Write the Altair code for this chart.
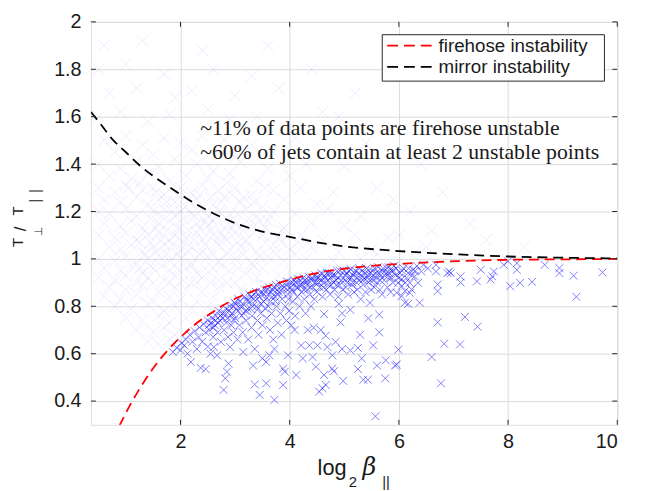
import altair as alt
import pandas as pd

# ---------------- data ----------------
x_ticks = [2, 4, 6, 8, 10]
y_ticks = [0.4, 0.6, 0.8, 1.0, 1.2, 1.4, 1.6, 1.8, 2.0]

firehose_x = [0.88, 1.0, 1.1, 1.22, 1.35, 1.52, 1.7, 1.89, 2.05, 2.22, 2.52, 2.79,
              3.06, 3.39, 3.76, 3.97, 4.45, 5.05, 5.66, 6.11, 7.13, 7.97, 9.0, 10.0]
firehose_y = [0.295, 0.35, 0.393, 0.44, 0.488, 0.545, 0.597, 0.645, 0.68, 0.715, 0.765, 0.805,
              0.838, 0.869, 0.896, 0.91, 0.938, 0.96, 0.974, 0.98, 0.991, 0.996, 0.998, 1.0]

mirror_x = [0.36, 0.5, 0.75, 1.0, 1.25, 1.5, 1.75, 2.0, 2.18, 2.5, 3.0, 3.5, 4.0,
            4.5, 5.0, 6.0, 7.0, 8.0, 9.0, 10.0]
mirror_y = [1.62, 1.58, 1.505, 1.45, 1.395, 1.35, 1.31, 1.272, 1.245, 1.204, 1.151,
            1.115, 1.093, 1.07, 1.053, 1.033, 1.02, 1.01, 1.005, 1.002]

unstable_pts = [
    (1.86, 0.607), (1.93, 0.625), (2.0, 0.615), (2.02, 0.645), (2.07, 0.635), (2.1, 0.66),
    (2.13, 0.6), (2.19, 0.565), (2.17, 0.68), (2.22, 0.65), (2.26, 0.695), (2.3, 0.62),
    (2.33, 0.67), (2.35, 0.71), (2.37, 0.54), (2.4, 0.65), (2.42, 0.725), (2.46, 0.535),
    (2.46, 0.69), (2.5, 0.63), (2.5, 0.74), (2.53, 0.7), (2.55, 0.6),
    (2.58, 0.75), (2.6, 0.67), (2.61, 0.628), (2.63, 0.72), (2.65, 0.76), (2.67, 0.593),
    (2.68, 0.69), (2.7, 0.78), (2.72, 0.74), (2.74, 0.65), (2.77, 0.77), (2.79, 0.447),
    (2.8, 0.7), (2.82, 0.496), (2.83, 0.79), (2.85, 0.524), (2.86, 0.75), (2.87, 0.67),
    (2.88, 0.558), (2.9, 0.8), (2.91, 0.628), (2.93, 0.72), (2.95, 0.77), (2.97, 0.69),
    (2.99, 0.815), (3.0, 0.75),
    (3.02, 0.79), (3.04, 0.66), (3.06, 0.83), (3.08, 0.72), (3.1, 0.8), (3.12, 0.76),
    (3.14, 0.69), (3.15, 0.607), (3.17, 0.84), (3.19, 0.78), (3.2, 0.74), (3.22, 0.82),
    (3.24, 0.66), (3.26, 0.85), (3.28, 0.79), (3.3, 0.71), (3.31, 0.76), (3.33, 0.55),
    (3.34, 0.83), (3.36, 0.47), (3.36, 0.62), (3.38, 0.86), (3.39, 0.8), (3.41, 0.74),
    (3.43, 0.68), (3.45, 0.426), (3.45, 0.84), (3.47, 0.77), (3.49, 0.86), (3.5, 0.72),
    (3.5, 0.58),
    (3.52, 0.82), (3.54, 0.87), (3.55, 0.79), (3.57, 0.565), (3.57, 0.475), (3.58, 0.75),
    (3.6, 0.85), (3.62, 0.88), (3.63, 0.593), (3.64, 0.7), (3.65, 0.82), (3.67, 0.77),
    (3.69, 0.87), (3.7, 0.66), (3.72, 0.405), (3.72, 0.62), (3.73, 0.84), (3.75, 0.89),
    (3.76, 0.8), (3.78, 0.73), (3.8, 0.86), (3.82, 0.895), (3.83, 0.77), (3.85, 0.68),
    (3.86, 0.83), (3.88, 0.537), (3.88, 0.468), (3.9, 0.88), (3.91, 0.524), (3.92, 0.8),
    (3.94, 0.74), (3.95, 0.905), (3.97, 0.593), (3.97, 0.85), (3.99, 0.78),
    (4.01, 0.9), (4.03, 0.72), (4.04, 0.87), (4.06, 0.82), (4.08, 0.91), (4.09, 0.70),
    (4.1, 0.76), (4.12, 0.51), (4.12, 0.88), (4.14, 0.84), (4.16, 0.915), (4.18, 0.8),
    (4.2, 0.89), (4.21, 0.635), (4.22, 0.86), (4.24, 0.58), (4.25, 0.92), (4.27, 0.83),
    (4.29, 0.77), (4.3, 0.9), (4.32, 0.87), (4.33, 0.70), (4.35, 0.925), (4.36, 0.635),
    (4.37, 0.85), (4.39, 0.8), (4.4, 0.91), (4.42, 0.586), (4.43, 0.88), (4.44, 0.71),
    (4.45, 0.83), (4.47, 0.93), (4.48, 0.545), (4.49, 0.9), (4.5, 0.86),
    (4.51, 0.635), (4.52, 0.92), (4.54, 0.44), (4.55, 0.88), (4.57, 0.70), (4.58, 0.94),
    (4.6, 0.454), (4.6, 0.84), (4.61, 0.9), (4.63, 0.51), (4.63, 0.767), (4.64, 0.93),
    (4.66, 0.468), (4.66, 0.676), (4.67, 0.87), (4.69, 0.628), (4.7, 0.91), (4.72, 0.94),
    (4.74, 0.85), (4.76, 0.89), (4.78, 0.593), (4.78, 0.537), (4.79, 0.93), (4.81, 0.526),
    (4.82, 0.87), (4.84, 0.65), (4.85, 0.91), (4.87, 0.95), (4.89, 0.84), (4.9, 0.81),
    (4.91, 0.89), (4.93, 0.732), (4.94, 0.93), (4.96, 0.62), (4.96, 0.77), (4.97, 0.87),
    (4.98, 0.485), (4.99, 0.95),
    (5.01, 0.91), (5.03, 0.88), (5.05, 0.94), (5.07, 0.85), (5.09, 0.92), (5.11, 0.785),
    (5.11, 0.614), (5.12, 0.955), (5.14, 0.89), (5.16, 0.93), (5.18, 0.86), (5.2, 0.95),
    (5.22, 0.9), (5.24, 0.87), (5.25, 0.624), (5.25, 0.535), (5.26, 0.94), (5.28, 0.91),
    (5.29, 0.68), (5.3, 0.83), (5.32, 0.58), (5.33, 0.95), (5.35, 0.49), (5.35, 0.89),
    (5.37, 0.92), (5.39, 0.86), (5.41, 0.96), (5.43, 0.49), (5.44, 0.749), (5.44, 0.9),
    (5.46, 0.935), (5.47, 0.815), (5.49, 0.87),
    (5.51, 0.95), (5.53, 0.635), (5.53, 0.91), (5.55, 0.88), (5.57, 0.336), (5.58, 0.94),
    (5.6, 0.55), (5.6, 0.9), (5.62, 0.965), (5.64, 0.765), (5.64, 0.69), (5.65, 0.87),
    (5.67, 0.93), (5.69, 0.85), (5.71, 0.96), (5.73, 0.91), (5.75, 0.496), (5.76, 0.572),
    (5.77, 0.94), (5.79, 0.88), (5.81, 0.965), (5.83, 0.92), (5.85, 0.86), (5.87, 0.95),
    (5.89, 0.9), (5.91, 0.97), (5.93, 0.55), (5.94, 0.93), (5.96, 0.554), (5.96, 0.857),
    (5.99, 0.617), (5.99, 0.899),
    (6.02, 0.94), (6.05, 0.885), (6.05, 0.913), (6.05, 0.843), (6.08, 0.96), (6.11, 0.864),
    (6.11, 0.815), (6.14, 0.92), (6.17, 0.94), (6.17, 0.81), (6.2, 0.899), (6.2, 0.857),
    (6.23, 0.871), (6.26, 0.954), (6.29, 0.926), (6.33, 0.97), (6.35, 0.899), (6.38, 0.815),
    (6.41, 0.947), (6.45, 0.975), (6.53, 0.96), (6.6, 0.586), (6.68, 0.975), (6.68, 0.947),
    (6.71, 0.892), (6.71, 0.864), (6.71, 0.732), (6.77, 0.475), (6.83, 0.642), (6.89, 0.94),
    (6.92, 0.947), (6.95, 0.94),
    (7.12, 0.639), (7.13, 0.926), (7.13, 0.90), (7.21, 0.755), (7.43, 0.905), (7.44, 0.714),
    (7.5, 0.954), (7.68, 0.913), (7.71, 0.926), (7.74, 0.947), (7.92, 0.975), (8.04, 0.885),
    (8.0, 0.99), (8.16, 0.982), (8.16, 0.954), (8.22, 0.899), (8.44, 0.903), (8.67, 0.975),
    (8.94, 0.961), (8.94, 0.94), (9.2, 0.929), (9.25, 0.84), (9.73, 0.943),
    # dense band just under the firehose threshold
    (2.52, 0.72), (2.56, 0.73), (2.6, 0.71), (2.64, 0.74), (2.69, 0.73), (2.73, 0.76),
    (2.78, 0.75), (2.81, 0.77), (2.84, 0.73), (2.89, 0.78), (2.92, 0.76), (2.96, 0.8),
    (2.98, 0.74),
    (3.01, 0.81), (3.05, 0.78), (3.09, 0.82), (3.13, 0.8), (3.16, 0.77), (3.21, 0.83),
    (3.23, 0.79), (3.27, 0.82), (3.29, 0.84), (3.32, 0.8), (3.35, 0.85), (3.4, 0.83),
    (3.42, 0.79), (3.46, 0.86), (3.48, 0.81),
    (3.53, 0.85), (3.56, 0.83), (3.59, 0.87), (3.61, 0.8), (3.66, 0.86), (3.68, 0.84),
    (3.71, 0.88), (3.74, 0.82), (3.77, 0.87), (3.79, 0.85), (3.84, 0.88), (3.87, 0.86),
    (3.93, 0.89), (3.96, 0.87), (3.98, 0.83),
    (4.02, 0.88), (4.05, 0.9), (4.07, 0.86), (4.11, 0.9), (4.15, 0.88), (4.19, 0.91),
    (4.23, 0.89), (4.26, 0.87), (4.28, 0.91), (4.31, 0.89), (4.34, 0.91), (4.38, 0.88),
    (4.41, 0.92), (4.46, 0.9), (4.48, 0.92),
    (4.53, 0.9), (4.56, 0.93), (4.59, 0.91), (4.62, 0.88), (4.65, 0.92), (4.68, 0.94),
    (4.71, 0.89), (4.75, 0.92), (4.77, 0.94), (4.8, 0.9), (4.83, 0.93), (4.86, 0.89),
    (4.88, 0.92), (4.92, 0.95), (4.95, 0.91),
    (5.02, 0.93), (5.06, 0.9), (5.08, 0.95), (5.13, 0.92), (5.15, 0.9), (5.19, 0.94),
    (5.23, 0.92), (5.27, 0.96), (5.31, 0.93), (5.34, 0.91), (5.38, 0.94), (5.42, 0.92),
    (5.45, 0.95), (5.48, 0.91),
    (5.52, 0.93), (5.56, 0.96), (5.59, 0.92), (5.63, 0.94), (5.66, 0.91), (5.7, 0.95),
    (5.74, 0.93), (5.78, 0.96), (5.82, 0.94), (5.86, 0.92), (5.9, 0.95), (5.95, 0.96),
    (6.0, 0.92), (6.06, 0.95), (6.12, 0.9), (6.18, 0.96), (6.24, 0.93), (6.3, 0.95),
]

stable_pts = [
    (0.6, 1.9), (1.3, 1.92), (2.4, 1.88), (3.6, 1.9),
    (0.5, 1.8), (1.0, 1.82), (1.7, 1.78), (2.6, 1.8), (3.3, 1.77), (4.4, 1.8),
    (0.7, 1.7), (1.2, 1.72), (1.9, 1.68), (2.2, 1.71), (3.0, 1.69), (3.8, 1.72), (5.2, 1.7),
    (0.5, 1.6), (0.9, 1.62), (1.4, 1.58), (1.8, 1.61), (2.5, 1.63), (2.9, 1.59), (3.4, 1.6), (4.6, 1.62),
    (0.6, 1.5), (1.0, 1.52), (1.3, 1.48), (1.7, 1.51), (2.0, 1.49), (2.4, 1.52), (2.8, 1.5),
    (3.3, 1.48), (4.1, 1.51), (5.4, 1.49),
    (0.8, 1.45), (1.5, 1.44), (2.2, 1.46), (3.0, 1.43), (3.7, 1.45),
    (0.5, 1.4), (0.9, 1.38), (1.2, 1.41), (1.6, 1.39), (1.9, 1.42), (2.3, 1.4), (2.6, 1.37),
    (3.1, 1.41), (3.6, 1.38), (4.3, 1.4), (5.0, 1.39),
    (0.7, 1.35), (1.1, 1.34), (1.4, 1.36), (1.8, 1.33), (2.1, 1.35), (2.5, 1.34), (2.9, 1.36),
    (3.4, 1.33), (4.0, 1.35),
    (0.5, 1.3), (0.8, 1.28), (1.0, 1.31), (1.3, 1.29), (1.5, 1.3), (1.7, 1.27), (2.0, 1.3),
    (2.2, 1.28), (2.4, 1.31), (2.7, 1.29), (3.0, 1.3), (3.3, 1.27), (3.7, 1.29), (4.2, 1.3),
    (4.8, 1.28), (5.6, 1.3),
    (0.6, 1.25), (0.9, 1.24), (1.2, 1.26), (1.4, 1.23), (1.6, 1.25), (1.9, 1.24), (2.1, 1.22),
    (2.3, 1.25), (2.6, 1.23), (2.8, 1.26), (3.1, 1.24), (3.5, 1.22), (3.9, 1.25), (4.5, 1.23),
    (0.5, 1.2), (0.7, 1.19), (1.0, 1.21), (1.2, 1.18), (1.5, 1.2), (1.7, 1.21), (1.9, 1.18),
    (2.0, 1.2), (2.2, 1.19), (2.4, 1.21), (2.5, 1.18), (2.7, 1.2), (2.9, 1.19), (3.2, 1.21),
    (3.4, 1.18), (3.7, 1.2), (4.1, 1.19), (4.7, 1.21), (5.3, 1.18), (6.2, 1.2),
    (0.6, 1.15), (0.9, 1.14), (1.1, 1.16), (1.3, 1.13), (1.6, 1.15), (1.8, 1.16), (2.0, 1.13),
    (2.3, 1.15), (2.5, 1.14), (2.6, 1.16), (2.8, 1.13), (3.0, 1.15), (3.3, 1.14), (3.6, 1.16),
    (3.9, 1.13), (4.4, 1.15), (5.0, 1.14),
    (0.5, 1.1), (0.8, 1.09), (1.0, 1.11), (1.2, 1.08), (1.4, 1.1), (1.6, 1.11), (1.8, 1.08),
    (1.9, 1.1), (2.1, 1.09), (2.3, 1.11), (2.4, 1.08), (2.6, 1.1), (2.8, 1.09), (3.0, 1.11),
    (3.2, 1.08), (3.5, 1.1), (3.8, 1.09), (4.2, 1.1), (4.6, 1.08), (5.2, 1.1), (5.8, 1.09),
    (0.7, 1.05), (0.9, 1.04), (1.1, 1.06), (1.3, 1.03), (1.5, 1.05), (1.7, 1.06), (2.0, 1.04),
    (2.2, 1.05), (2.4, 1.03), (2.7, 1.06), (2.9, 1.04), (3.1, 1.05), (3.4, 1.03), (3.7, 1.06),
    (4.0, 1.04), (4.4, 1.05), (4.9, 1.03), (5.5, 1.04), (6.5, 1.05),
    (0.5, 1.0), (0.8, 0.99), (1.0, 1.01), (1.2, 0.98), (1.4, 1.0), (1.6, 1.01), (1.8, 0.99),
    (2.0, 1.0), (2.2, 0.98), (2.5, 1.01), (2.7, 0.99), (3.0, 1.0), (3.3, 0.98), (3.6, 1.01),
    (3.9, 0.99), (4.3, 1.0), (4.8, 0.99), (5.3, 1.0), (6.0, 0.99), (7.0, 1.0),
    (0.6, 0.96), (0.9, 0.95), (1.1, 0.97), (1.3, 0.94), (1.5, 0.96), (1.8, 0.95), (2.1, 0.96),
    (2.3, 0.94), (2.6, 0.96), (2.9, 0.95), (3.2, 0.94), (3.5, 0.96), (4.0, 0.95), (4.6, 0.96),
    (5.1, 0.97),
    (0.5, 0.92), (0.8, 0.91), (1.0, 0.93), (1.2, 0.9), (1.4, 0.92), (1.7, 0.91), (1.9, 0.93),
    (2.2, 0.9), (2.4, 0.92), (2.7, 0.91), (3.0, 0.9), (3.4, 0.92), (3.8, 0.93),
    (0.7, 0.88), (1.0, 0.87), (1.3, 0.89), (1.6, 0.86), (1.9, 0.88), (2.1, 0.87), (2.4, 0.86),
    (2.7, 0.88), (3.1, 0.87),
    (0.6, 0.84), (0.9, 0.83), (1.2, 0.85), (1.5, 0.82), (1.8, 0.84), (2.0, 0.83), (2.3, 0.82),
    (2.6, 0.84),
    (0.8, 0.8), (1.1, 0.79), (1.4, 0.81), (1.7, 0.78), (1.9, 0.8), (2.2, 0.79), (2.5, 0.8),
    (1.0, 0.75), (1.3, 0.74), (1.6, 0.76), (1.8, 0.73), (2.1, 0.75),
    (1.2, 0.7), (1.5, 0.69), (1.7, 0.71), (1.9, 0.68),
    (1.4, 0.65), (1.6, 0.64), (1.8, 0.66),
    (6.8, 1.28), (7.3, 1.15), (6.0, 1.1), (6.6, 1.12), (5.9, 1.25), (4.9, 1.6), (6.4, 1.4),
    (8.3, 1.05), (7.6, 1.08), (5.6, 1.02), (6.3, 1.03),
    (1.55, 1.28), (1.75, 1.24), (1.95, 1.27), (2.15, 1.25), (2.35, 1.27), (2.55, 1.26),
    (2.75, 1.24), (2.95, 1.27), (3.15, 1.26), (3.35, 1.24),
    (1.45, 1.17), (1.65, 1.18), (1.85, 1.2), (2.05, 1.17), (2.25, 1.18), (2.45, 1.16),
    (2.65, 1.18), (2.85, 1.17), (3.05, 1.19), (3.25, 1.17), (3.45, 1.16), (3.65, 1.18),
    (1.35, 1.12), (1.55, 1.13), (1.75, 1.12), (1.95, 1.13), (2.15, 1.12), (2.35, 1.13),
    (2.55, 1.12), (2.75, 1.11), (2.95, 1.13), (3.15, 1.12), (3.35, 1.11), (3.55, 1.13), (3.85, 1.12),
    (1.25, 1.07), (1.45, 1.07), (1.65, 1.08), (1.85, 1.06), (2.05, 1.07), (2.25, 1.08),
    (2.45, 1.06), (2.65, 1.07), (2.85, 1.08), (3.05, 1.07), (3.25, 1.06), (3.55, 1.07),
    (3.85, 1.07), (4.15, 1.07),
    (1.35, 1.02), (1.55, 1.03), (1.75, 1.02), (1.95, 1.02), (2.15, 1.03), (2.35, 1.02),
    (2.6, 1.02), (2.85, 1.02), (3.15, 1.02), (3.45, 1.01), (3.75, 1.02), (4.1, 1.02),
    (1.25, 0.96), (1.45, 0.97), (1.65, 0.97), (1.95, 0.96), (2.2, 0.97), (2.45, 0.96),
    (2.75, 0.97), (3.05, 0.96), (3.35, 0.97),
    (1.5, 0.9), (1.8, 0.9), (2.05, 0.91), (2.3, 0.9), (2.55, 0.9), (2.85, 0.9),
    (1.05, 1.3), (1.25, 1.32), (2.85, 1.32), (3.55, 1.3),
]

legend_labels = ["firehose instability", "mirror instability"]
legend_colors = ["#ff0000", "#000000"]
annotation_lines = ["~11% of data points are firehose unstable",
                    "~60% of jets contain at least 2 unstable points"]
annotation_x = [2.36, 2.36]
annotation_y = [1.551, 1.449]

# ---------------- frames ----------------
W, H = 533, 408
unstable_df = pd.DataFrame(unstable_pts, columns=["x", "y"])
stable_df = pd.DataFrame(stable_pts, columns=["x", "y"])
fire_df = pd.DataFrame({"x": firehose_x, "y": firehose_y})
mirror_df = pd.DataFrame({"x": mirror_x, "y": mirror_y})
xt_df = pd.DataFrame({"x": x_ticks})
yt_df = pd.DataFrame({"y": y_ticks})
ann_df = pd.DataFrame({"x": annotation_x, "y": annotation_y, "t": annotation_lines})
one = pd.DataFrame({"k": [0]})

SANS = "Liberation Sans"
INK = "#1a1a1a"
xs = alt.Scale(domain=[0.36, 10], nice=False, zero=False)
ys = alt.Scale(domain=[0.3, 2], nice=False, zero=False)
X_AX = alt.Axis(values=x_ticks, title=None, grid=True, gridColor="#dadada", ticks=False,
                domain=False, labelFontSize=20, labelFont=SANS, labelColor=INK, labelPadding=7)
Y_AX = alt.Axis(values=y_ticks, format="~g", title=None, grid=True, gridColor="#dadada",
                ticks=False, domain=False, labelFontSize=20, labelFont=SANS, labelColor=INK,
                labelPadding=10)
XE = alt.X("x:Q", scale=xs, axis=X_AX)
YE = alt.Y("y:Q", scale=ys, axis=Y_AX)
XSHAPE = "M-1,-1L1,1M-1,1L1,-1"

stable = alt.Chart(stable_df).mark_point(
    shape=XSHAPE, size=150, strokeWidth=1, color="#0000ff", opacity=0.065, filled=False
).encode(x=XE, y=YE)

unstable = alt.Chart(unstable_df).mark_point(
    shape=XSHAPE, size=64, strokeWidth=1, color="#0000ff", opacity=0.5, filled=False
).encode(x=XE, y=YE)

fire = alt.Chart(fire_df).mark_line(
    color="#ff0000", strokeDash=[10, 6], strokeWidth=1.8, clip=True, interpolate="monotone"
).encode(x=XE, y=YE)

mirror = alt.Chart(mirror_df).mark_line(
    color="#000000", strokeDash=[10, 6], strokeWidth=1.8, clip=True, interpolate="monotone"
).encode(x=XE, y=YE)

tick_col = "#262626"
xt_bot = alt.Chart(xt_df).mark_rule(color=tick_col).encode(
    x=XE, y=alt.value(H), y2=alt.value(H - 5))
xt_top = alt.Chart(xt_df).mark_rule(color=tick_col).encode(
    x=XE, y=alt.value(0), y2=alt.value(5))
yt_left = alt.Chart(yt_df).mark_rule(color=tick_col).encode(
    y=YE, x=alt.value(0), x2=alt.value(5))
yt_right = alt.Chart(yt_df).mark_rule(color=tick_col).encode(
    y=YE, x=alt.value(W), x2=alt.value(W - 5))

ann = alt.Chart(ann_df).mark_text(
    align="left", baseline="middle", font="Liberation Serif", fontSize=22, color=INK
).encode(x=XE, y=YE, text="t:N")

# legend (drawn box)
leg_box = alt.Chart(one).mark_rect(fill="white", stroke="#262626", strokeWidth=1).encode(
    x=alt.value(295), x2=alt.value(520), y=alt.value(13), y2=alt.value(60))
leg_layers = [leg_box]
for i, (lab, col) in enumerate(zip(legend_labels, legend_colors)):
    yy = 24 + i * 21.5
    leg_layers.append(alt.Chart(one).mark_rule(color=col, strokeDash=[11, 6], strokeWidth=1.8).encode(
        x=alt.value(300), x2=alt.value(348), y=alt.value(yy)))
    leg_layers.append(alt.Chart(one).mark_text(
        align="left", baseline="middle", font=SANS, fontSize=19, color=INK).encode(
        x=alt.value(352), y=alt.value(yy), text=alt.value(lab)))

# axis titles with subscripts
def txt(s, x, y, size, font=SANS, angle=0, style="normal"):
    return alt.Chart(one).mark_text(
        align="left", baseline="alphabetic", font=font, fontSize=size, color=INK,
        angle=angle, fontStyle=style).encode(x=alt.value(x), y=alt.value(y), text=alt.value(s))

titles = [
    txt("log", 229.5, 459, 22),
    txt("2", 261, 471, 15),
    txt("β", 275, 459, 24, font="DejaVu Serif", style="italic"),
    txt("||", 295, 471, 15),
    txt("T", -69, 228, 15, angle=270),
    txt("⊥", -50, 217, 11, font="DejaVu Sans", angle=270),
    txt("/", -66, 212, 17, angle=270),
    txt("T", -69, 196, 15, angle=270),
    txt("|", -52, 183, 14, angle=270),
    txt("|", -52, 173, 14, angle=270),
]

chart = alt.layer(
    stable, unstable, fire, mirror, xt_bot, xt_top, yt_left, yt_right, ann,
    *leg_layers, *titles
).properties(
    width=W, height=H,
    padding={"left": 84, "top": 11, "right": 22, "bottom": 64},
    autosize=alt.AutoSizeParams(type="none"),
).configure_view(stroke="#262626", strokeWidth=1).configure(background="white")

chart.save("out.html", embed_options={"renderer": "svg", "actions": False})
